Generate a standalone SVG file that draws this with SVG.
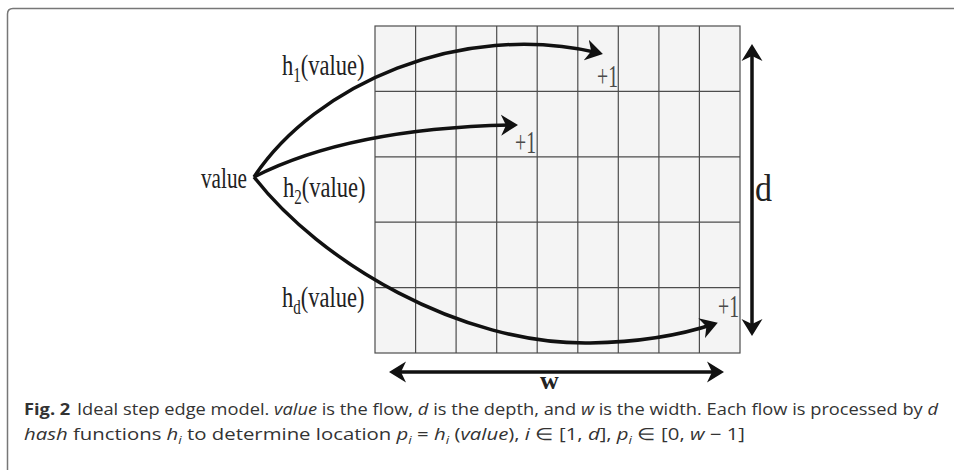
<svg xmlns="http://www.w3.org/2000/svg" width="954" height="470" viewBox="0 0 954 470">
<style>
.grid line{stroke:#4d4d4d;stroke-width:1.2}
.lbl{font-family:"Liberation Serif","Times New Roman",serif;fill:#222}
.plus{font-family:"Liberation Serif","Times New Roman",serif;fill:#4a4a4a;font-size:32px}
.conn{fill:none;stroke:#111;stroke-width:3.5}
.cap{font-family:"Open Sans","Noto Sans",sans-serif;font-size:16.5px;fill:#333}
.it{font-style:italic}
</style>
<defs>
<marker id="ah" markerUnits="userSpaceOnUse" markerWidth="18" markerHeight="22" refX="13" refY="11" orient="auto-start-reverse">
<path d="M0,0.5 L17,11 L0,21.5 L5,11 Z" fill="#111"/>
</marker>
</defs>
<rect width="954" height="470" fill="#fff"/>
<path d="M7.5,470 V14 Q7.5,8.5 13,8.5 H954" fill="none" stroke="#777" stroke-width="1.5"/>

<g id="sketch-grid" class="grid">
<rect x="375" y="26" width="365" height="327" fill="#f4f4f4" stroke="#4d4d4d" stroke-width="1.2"/>
<line x1="415.6" y1="26" x2="415.6" y2="353"/>
<line x1="456.1" y1="26" x2="456.1" y2="353"/>
<line x1="496.7" y1="26" x2="496.7" y2="353"/>
<line x1="537.2" y1="26" x2="537.2" y2="353"/>
<line x1="577.8" y1="26" x2="577.8" y2="353"/>
<line x1="618.3" y1="26" x2="618.3" y2="353"/>
<line x1="658.9" y1="26" x2="658.9" y2="353"/>
<line x1="699.4" y1="26" x2="699.4" y2="353"/>
<line x1="375" y1="91.4" x2="740" y2="91.4"/>
<line x1="375" y1="156.8" x2="740" y2="156.8"/>
<line x1="375" y1="222.2" x2="740" y2="222.2"/>
<line x1="375" y1="287.6" x2="740" y2="287.6"/>
</g>

<g id="connectors">
<path class="conn" d="M254,177 C315,85 460,20 599,53" marker-end="url(#ah)"/>
<path class="conn" d="M254,177 Q350,128 514,125" marker-end="url(#ah)"/>
<path class="conn" d="M254,177 C320,262 460,345 590,343 C650,342 690,332 714,324" marker-end="url(#ah)"/>
<path class="conn" d="M752,48 V332" marker-start="url(#ah)" marker-end="url(#ah)"/>
<path class="conn" d="M393,372 H720" marker-start="url(#ah)" marker-end="url(#ah)"/>
</g>

<g id="value">
<text class="lbl" x="201" y="188" font-size="29" textLength="46" lengthAdjust="spacingAndGlyphs">value</text>
</g>
<g id="h1">
<text class="lbl" transform="translate(282,75) scale(0.75,1)" font-size="30">h<tspan font-size="20" dy="7">1</tspan><tspan dy="-7">(value)</tspan></text>
</g>
<g id="h2">
<text class="lbl" transform="translate(283,197) scale(0.75,1)" font-size="30">h<tspan font-size="20" dy="7">2</tspan><tspan dy="-7">(value)</tspan></text>
</g>
<g id="hd">
<text class="lbl" transform="translate(282,307) scale(0.75,1)" font-size="30">h<tspan font-size="20" dy="7">d</tspan><tspan dy="-7">(value)</tspan></text>
</g>
<g id="plus1">
<text class="plus" x="597" y="87" textLength="21" lengthAdjust="spacingAndGlyphs">+1</text>
</g>
<g id="plus2">
<text class="plus" x="515" y="153" textLength="21" lengthAdjust="spacingAndGlyphs">+1</text>
</g>
<g id="plus3">
<text class="plus" x="718" y="317" textLength="21" lengthAdjust="spacingAndGlyphs">+1</text>
</g>
<g id="d-label">
<text class="lbl" x="755" y="201" font-size="38" textLength="17" lengthAdjust="spacingAndGlyphs">d</text>
</g>
<g id="w-label">
<text class="lbl" x="549.5" y="389" font-size="26" font-weight="bold" text-anchor="middle">w</text>
</g>

<g id="caption">
<text class="cap" x="24" y="415" textLength="914" lengthAdjust="spacingAndGlyphs"><tspan font-weight="bold">Fig. 2</tspan><tspan dx="6">Ideal step edge model. </tspan><tspan class="it">value</tspan> is the flow, <tspan class="it">d</tspan> is the depth, and <tspan class="it">w</tspan> is the width. Each flow is processed by <tspan class="it">d</tspan></text>
<text class="cap" x="24" y="440" textLength="721" lengthAdjust="spacingAndGlyphs"><tspan class="it">hash</tspan> functions <tspan class="it">h</tspan><tspan class="it" font-size="11" dy="4">i</tspan><tspan dy="-4"> to determine location </tspan><tspan class="it">p</tspan><tspan class="it" font-size="11" dy="4">i</tspan><tspan dy="-4"> = </tspan><tspan class="it">h</tspan><tspan class="it" font-size="11" dy="4">i</tspan><tspan dy="-4"> (</tspan><tspan class="it">value</tspan>), <tspan class="it">i</tspan> ∈ [1, <tspan class="it">d</tspan>], <tspan class="it">p</tspan><tspan class="it" font-size="11" dy="4">i</tspan><tspan dy="-4"> ∈ [0, </tspan><tspan class="it">w</tspan> − 1]</text>
</g>
</svg>
